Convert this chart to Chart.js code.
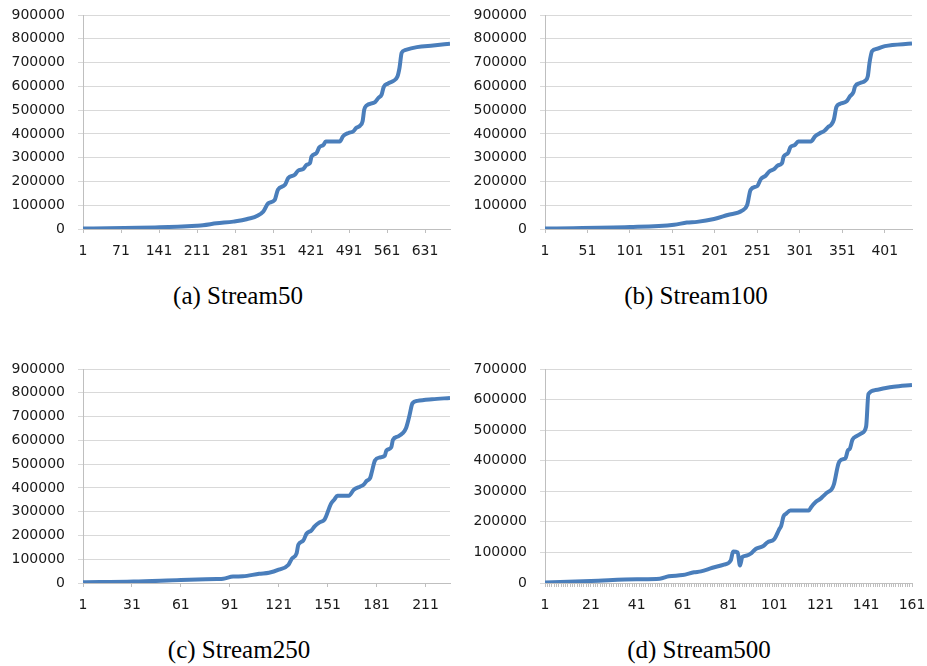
<!DOCTYPE html>
<html>
<head>
<meta charset="utf-8">
<script src="https://cdn.jsdelivr.net/npm/chart.js@4.4.0/dist/chart.umd.min.js"></script>
<style>
body { margin: 0; background: #fff; width: 927px; height: 666px; position: relative; overflow: hidden; }
canvas { position: absolute; }
.cap { position: absolute; width: 300px; text-align: center; font-family: "Liberation Serif", serif; font-size: 25px; line-height: 30px; color: #000; }
</style>
</head>
<body>
<canvas id="gA" width="465" height="270" style="left:0px;top:0px"></canvas>
<canvas id="gB" width="465" height="270" style="left:462px;top:0px"></canvas>
<canvas id="gC" width="465" height="270" style="left:0px;top:354px"></canvas>
<canvas id="gD" width="465" height="270" style="left:462px;top:354px"></canvas>
<div class="cap" style="left:88px;top:281px">(a) Stream50</div>
<div class="cap" style="left:546px;top:281px">(b) Stream100</div>
<div class="cap" style="left:89px;top:635px">(c) Stream250</div>
<div class="cap" style="left:549px;top:635px">(d) Stream500</div>
<script>
// Stream50
let xA = [1,142,210,222,247,278,302,333,342,354,360,373,379,391,397,407,413,419,422,431,436,444,448,474,480,490,499,504,511,516,519,523,539,545,551,555,563,572,580,584,588,594,616,646,677];
let yA = [2000,7000,14000,16000,24000,31000,41000,73000,108000,122000,165000,186000,214000,228000,245000,253000,270000,277000,305000,319000,343000,354000,368000,368000,390000,404000,411000,425000,434000,453000,502000,519000,534000,551000,565000,598000,612000,622000,640000,678000,741000,752000,765000,772000,779000];
// Stream100
let xB = [1,101,153,168,180,200,216,233,239,243,251,255,261,265,271,275,280,282,287,290,295,299,314,319,324,330,334,338,341,344,348,356,360,364,366,372,378,381,383,386,392,401,433];
let yB = [2000,8000,18000,27000,30000,42000,59000,77000,101000,165000,181000,210000,225000,242000,253000,267000,277000,305000,319000,345000,353000,368000,368000,390000,402000,413000,428000,439000,460000,513000,526000,537000,558000,575000,600000,614000,624000,643000,699000,748000,758000,769000,780000];
// Stream250
let xC = [1,32,61,83,87,93,99,109,115,121,127,129,132,133,136,138,141,143,146,149,150,153,155,157,164,167,171,173,175,177,178,180,183,186,187,190,191,194,197,199,201,203,206,215,226];
let yC = [3000,6000,13000,17000,18000,27000,28000,39000,43000,56000,77000,102000,126000,161000,178000,207000,221000,238000,255000,266000,280000,333000,350000,367000,367000,392000,406000,413000,430000,441000,465000,515000,528000,535000,557000,571000,602000,616000,630000,651000,700000,756000,766000,773000,778000];
// Stream500
let xD = [1,21,41,51,55,61,66,69,74,79,82,83,85,86,87,89,91,93,96,98,101,103,104,105,106,108,116,117,119,121,122,124,126,127,129,131,132,133,134,135,137,139,141,142,145,149,153,161];
let yD = [2000,6500,12000,14000,22000,26000,35000,38000,50000,60000,74000,103000,100000,57000,85000,90000,98000,112000,120000,133000,144000,174000,188000,218000,226000,237000,237000,248000,265000,275000,282000,296000,307000,324000,392000,405000,408000,433000,441000,468000,481000,490000,512000,618000,631000,637000,642000,648000];

// etiquetas de los ejes
let xTicksA = [1,71,141,211,281,351,421,491,561,631];
let xTicksB = [1,51,101,151,201,251,301,351,401];
let xTicksC = [1,31,61,91,121,151,181,211];
let xTicksD = [1,21,41,61,81,101,121,141,161];
let yTicks900 = [0,100000,200000,300000,400000,500000,600000,700000,800000,900000];
let yTicks700 = [0,100000,200000,300000,400000,500000,600000,700000];

const fuente = {family: 'DejaVu Sans', size: 14};

function dibujar(id, xs, ys, xMax, xTicks, yTicks, marcas) {
    const datos = xs.map((x, i) => ({x: x, y: ys[i]}));
    const posX = marcas || xTicks;
    new Chart(document.getElementById(id), {
        type: 'line',
        data: {
            datasets: [{
                data: datos,
                borderColor: '#4a7ebb',
                borderWidth: 4,
                pointRadius: 0,
                cubicInterpolationMode: 'monotone',
                fill: false
            }]
        },
        options: {
            responsive: false,
            animation: false,
            events: [],
            layout: {padding: {left: 12, right: 15, top: 15, bottom: 4}},
            plugins: {legend: {display: false}, tooltip: {enabled: false}},
            scales: {
                x: {
                    type: 'linear',
                    min: 1,
                    max: xMax,
                    afterBuildTicks: (s) => { s.ticks = posX.map(v => ({value: v})); },
                    afterFit: (s) => { s.height = 37; s.paddingLeft = 0; s.paddingRight = 0; },
                    grid: {drawOnChartArea: false, tickLength: 4, color: '#bfbfbf'},
                    border: {color: '#bfbfbf'},
                    ticks: {
                        autoSkip: false, maxRotation: 0, padding: 10, color: '#1a1a1a', font: fuente,
                        callback: (v) => xTicks.includes(v) ? String(v) : ''
                    }
                },
                y: {
                    min: 0,
                    max: yTicks[yTicks.length - 1],
                    afterBuildTicks: (s) => { s.ticks = yTicks.map(v => ({value: v})); },
                    afterFit: (s) => { s.width = 71; s.paddingTop = 0; s.paddingBottom = 0; },
                    grid: {color: '#d9d9d9', tickLength: 5},
                    border: {color: '#bfbfbf'},
                    ticks: {padding: 13, color: '#1a1a1a', font: fuente, callback: (v) => String(v)}
                }
            }
        }
    });
}

// marcas menores del eje x en Stream500 (una por ventana)
let marcasD = Array.from({length: 161}, (_, i) => i + 1);

dibujar('gA', xA, yA, 677, xTicksA, yTicks900);
dibujar('gB', xB, yB, 433, xTicksB, yTicks900);
dibujar('gC', xC, yC, 226, xTicksC, yTicks900);
dibujar('gD', xD, yD, 161, xTicksD, yTicks700, marcasD);
</script>
</body>
</html>
